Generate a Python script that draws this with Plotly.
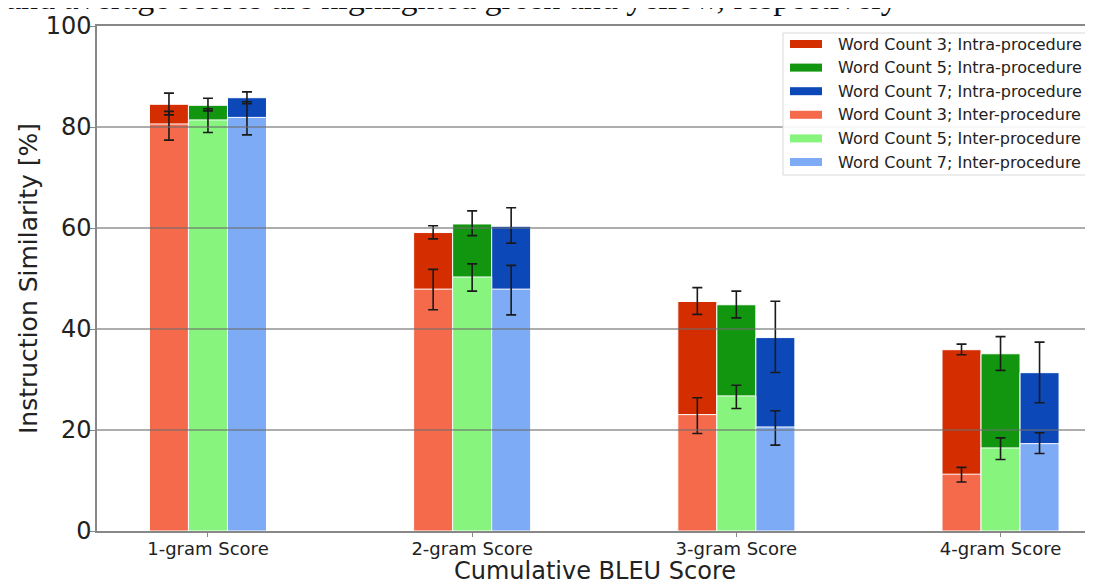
import plotly.graph_objects as go

categories = ["1-gram Score", "2-gram Score", "3-gram Score", "4-gram Score"]
word_counts = ["3", "5", "7"]

intra3 = [84.5, 59.1, 45.45, 35.9]
intra5 = [84.3, 60.8, 44.8, 35.1]
intra7 = [85.8, 60.35, 38.3, 31.35]
inter3 = [80.6, 47.9, 23.05, 11.25]
inter5 = [81.4, 50.3, 26.75, 16.45]
inter7 = [81.9, 47.9, 20.6, 17.3]

intra3_err_c = [82.75, 59.15, 45.55, 35.95]
intra3_err_h = [0.35, 1.3, 2.65, 1.05]
intra5_err_c = [83.4, 60.95, 44.85, 35.15]
intra5_err_h = [0.2, 2.45, 2.65, 3.35]
intra7_err_c = [84.8, 60.5, 38.45, 31.4]
intra7_err_h = [0.2, 3.5, 7.05, 6.0]
inter3_err_c = [82.05, 47.8, 22.85, 11.15]
inter3_err_h = [4.65, 4.0, 3.55, 1.45]
inter5_err_c = [82.3, 50.2, 26.55, 16.3]
inter5_err_h = [3.4, 2.7, 2.3, 2.15]
inter7_err_c = [82.7, 47.7, 20.4, 17.4]
inter7_err_h = [4.25, 4.9, 3.4, 2.05]

y_ticks = [0, 20, 40, 60, 80, 100]

intra_vals = [intra3, intra5, intra7]
inter_vals = [inter3, inter5, inter7]
intra_err = [(intra3_err_c, intra3_err_h), (intra5_err_c, intra5_err_h), (intra7_err_c, intra7_err_h)]
inter_err = [(inter3_err_c, inter3_err_h), (inter5_err_c, inter5_err_h), (inter7_err_c, inter7_err_h)]

intra_colors = ["#d42d00", "#12960f", "#0c48b8"]
inter_colors = ["#f56a4b", "#86f47d", "#7eabf5"]

FONT = "DejaVu Sans"
fig = go.Figure()

legend_entries = []
for wc, vals, col in zip(word_counts, intra_vals, intra_colors):
    name = f"Word Count {wc}; Intra-procedure"
    legend_entries.append((name, col))
    fig.add_trace(go.Bar(
        x=categories, y=vals, name=name, showlegend=False,
        offsetgroup=wc, marker=dict(color=col, line=dict(color="white", width=1))))
for wc, vals, col in zip(word_counts, inter_vals, inter_colors):
    name = f"Word Count {wc}; Inter-procedure"
    legend_entries.append((name, col))
    fig.add_trace(go.Bar(
        x=categories, y=vals, name=name, showlegend=False,
        offsetgroup=wc, marker=dict(color=col, line=dict(color="white", width=1))))

for wc, errs in zip(word_counts * 2, intra_err + inter_err):
    c, h = errs
    fig.add_trace(go.Bar(
        x=categories, y=c, offsetgroup=wc, showlegend=False, hoverinfo="skip",
        marker=dict(color="rgba(0,0,0,0)", line=dict(width=0)),
        error_y=dict(type="data", array=h, symmetric=True, color="#1a1a1a",
                     thickness=1.6, width=5)))

for v in y_ticks[1:-1]:
    fig.add_hline(y=v, line=dict(color="rgba(110,110,110,0.75)", width=1.5), layer="above")

# ---- legend drawn in paper coordinates (plot area: 97..1093 x 26..531 px)
PL, PW, PB, PH = 97, 996, 531, 505
def px(x):
    return (x - PL) / PW
def py(y):
    return (PB - y) / PH

fig.add_shape(type="rect", xref="paper", yref="paper",
              x0=px(783), x1=px(1091), y0=py(175), y1=py(33),
              line=dict(color="#d9d9d9", width=1), fillcolor="rgba(255,255,255,0.9)",
              layer="above")
for i, (name, col) in enumerate(legend_entries):
    yc = 44 + i * 23.6
    fig.add_shape(type="rect", xref="paper", yref="paper",
                  x0=px(790), x1=px(822), y0=py(yc + 4), y1=py(yc - 4),
                  line=dict(width=0), fillcolor=col, layer="above")
    fig.add_annotation(text=name, xref="paper", yref="paper", x=px(836), y=py(yc),
                       xanchor="left", yanchor="middle", showarrow=False,
                       font=dict(family=FONT, size=16, color="#222"))

fig.add_annotation(
    text="and average scores are highlighted green and yellow, respectively",
    xref="paper", yref="paper", x=-0.093, y=1.0, xanchor="left", yanchor="bottom",
    yshift=8, showarrow=False,
    font=dict(family="Liberation Serif", size=34, color="#111"))

# x-axis title placed as annotation so it can sit lower in the margin
fig.add_annotation(
    text="Cumulative BLEU Score", xref="paper", yref="paper", x=0.5, y=0,
    xanchor="center", yanchor="middle", yshift=-40, showarrow=False,
    font=dict(family=FONT, size=24, color="#222"))

# page body adds an 8px offset; size and margins compensate for it
fig.update_layout(
    width=1085, height=576,
    margin=dict(l=89, r=0, t=18, b=53),
    paper_bgcolor="white", plot_bgcolor="white",
    barmode="group", bargap=0.557, bargroupgap=0,
    font=dict(family=FONT, color="#222"),
    showlegend=False,
    xaxis=dict(range=[-0.42, 3.35], showgrid=False, showline=True, linecolor="#888",
               linewidth=1.5, mirror=True, ticks="outside", ticklen=4, tickcolor="#888",
               ticklabelstandoff=-3,
               tickfont=dict(family=FONT, size=18, color="#222")),
    yaxis=dict(range=[0, 100], tickvals=y_ticks, showgrid=False, showline=True,
               linecolor="#888", linewidth=1.5, ticks="outside", ticklen=5, tickcolor="#888",
               ticklabelstandoff=-6,
               tickfont=dict(family=FONT, size=24, color="#222"), zeroline=False,
               title=dict(text="Instruction Similarity [%]", font=dict(family=FONT, size=25, color="#222"),
                          standoff=1)),
)

fig.write_html("out.html")
